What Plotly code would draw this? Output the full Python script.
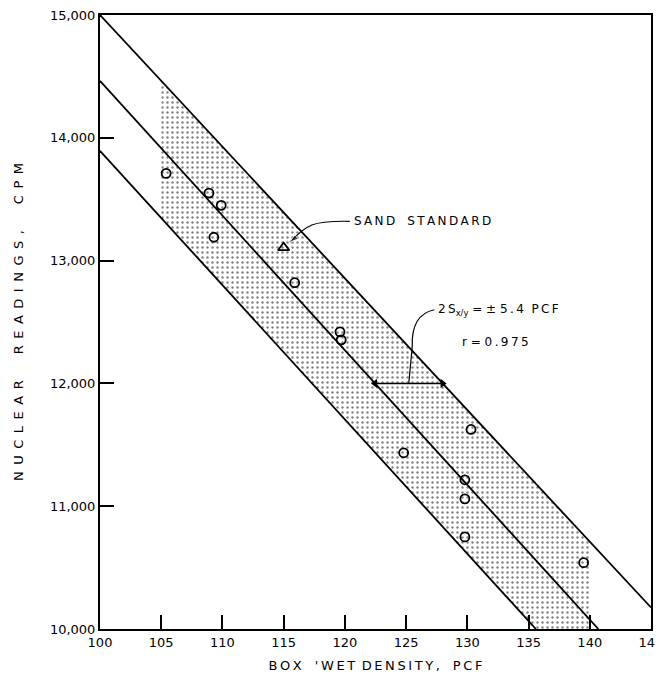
import numpy as np
import plotly.graph_objects as go

# ---- data ----
density_pcf = [105.4, 108.9, 109.9, 109.3, 115.9, 119.6, 119.7, 124.8, 130.3, 129.8, 129.8, 129.8, 139.5]
nuclear_cpm = [13710, 13550, 13450, 13190, 12820, 12420, 12355, 11435, 11625, 11215, 11060, 10750, 10540]

sand_std_density = [115.0]
sand_std_cpm = [13105]

# regression line and +/- 2S band (end points)
center_x = [100.0, 140.7]
center_y = [14463, 10000]
upper_x = [100.0, 145.0]
upper_y = [15000, 10175]
lower_x = [100.0, 135.6]
lower_y = [13894, 10000]

shade_x_range = [105.0, 140.0]   # extent of stippled band
band_arrow_cpm = 12000           # level of the +/- arrow

x_ticks = [100, 105, 110, 115, 120, 125, 130, 135, 140, 145]
y_ticks = [10000, 11000, 12000, 13000, 14000, 15000]


def spaced(s, gap="\u2009"):
    return gap.join(list(s))


def line_y(xs, ys, x):
    xs = np.asarray(xs, float); ys = np.asarray(ys, float)
    slope = (ys[1] - ys[0]) / (xs[1] - xs[0])
    return ys[0] + slope * (x - xs[0])


def line_x(xs, ys, y):
    xs = np.asarray(xs, float); ys = np.asarray(ys, float)
    slope = (ys[1] - ys[0]) / (xs[1] - xs[0])
    return xs[0] + (y - ys[0]) / slope


# stippled polygon built from the band lines
x0, x1 = shade_x_range
ybot = 10000
poly_x = [x0, x0, line_x(lower_x, lower_y, ybot), x1, x1, x0]
poly_y = [line_y(upper_x, upper_y, x0), line_y(lower_x, lower_y, x0), ybot, ybot,
          line_y(upper_x, upper_y, x1), line_y(upper_x, upper_y, x0)]

fig = go.Figure()

fig.add_trace(go.Scatter(
    x=poly_x, y=poly_y, mode="lines", fill="toself",
    line=dict(width=0, color="rgba(0,0,0,0)"),
    fillcolor="white",
    fillpattern=dict(shape=".", fgcolor="black", bgcolor="white", size=5, solidity=0.18),
    hoverinfo="skip", showlegend=False))

for xs, ys in [(upper_x, upper_y), (center_x, center_y), (lower_x, lower_y)]:
    fig.add_trace(go.Scatter(x=xs, y=ys, mode="lines",
                             line=dict(color="black", width=1.8),
                             showlegend=False, hoverinfo="skip"))

fig.add_trace(go.Scatter(
    x=density_pcf, y=nuclear_cpm, mode="markers",
    marker=dict(symbol="circle-open", size=9, color="black", line=dict(width=1.8)),
    showlegend=False))

fig.add_trace(go.Scatter(
    x=sand_std_density, y=sand_std_cpm, mode="markers",
    marker=dict(symbol="triangle-up-open", size=10, color="black", line=dict(width=1.8)),
    showlegend=False))

# +/- double arrow between center and upper line
xa_c = line_x(center_x, center_y, band_arrow_cpm)
xa_u = line_x(upper_x, upper_y, band_arrow_cpm)
xa_m = (xa_c + xa_u) / 2
fig.add_trace(go.Scatter(
    x=[xa_c, xa_u], y=[band_arrow_cpm, band_arrow_cpm], mode="lines+markers",
    line=dict(color="black", width=1.5),
    marker=dict(symbol=["triangle-left", "triangle-right"], size=8, color="black"),
    showlegend=False, hoverinfo="skip"))

font_txt = dict(family="DejaVu Sans", size=12, color="black")

# leader from the label to the arrow
fig.add_shape(type="path", xref="x", yref="y",
              path=f"M 127.3,12600 Q 125.4,12560 125.5,12300 L {xa_m:.2f},{band_arrow_cpm}",
              line=dict(color="black", width=1.2))

fig.add_annotation(x=127.4, y=12600, xref="x", yref="y", xanchor="left", yanchor="middle",
                   text=spaced("2S") + "<sub>x/y</sub> = ± " + spaced("5.4") + "  " + spaced("PCF"),
                   showarrow=False, font=font_txt)
fig.add_annotation(x=129.4, y=12335, xref="x", yref="y", xanchor="left", yanchor="middle",
                   text="r = " + spaced("0.975"), showarrow=False, font=font_txt)

# sand standard label with leader arrow to the triangle
fig.add_trace(go.Scatter(
    x=[120.4, 117.3, 115.5], y=[13320, 13290, 13150], mode="lines+markers",
    line=dict(color="black", width=1.2, shape="spline"),
    marker=dict(symbol=["circle", "circle", "arrow"], size=[0, 0, 9], color="black",
                angleref="previous"),
    showlegend=False, hoverinfo="skip"))
fig.add_annotation(x=120.6, y=13320, xref="x", yref="y", xanchor="left", yanchor="middle",
                   text=spaced("SAND") + "\u2003" + spaced("STANDARD"), showarrow=False,
                   font=font_txt)

axis_common = dict(showline=True, linecolor="black", linewidth=2, mirror=True,
                   ticks="inside", ticklen=14, tickwidth=2, tickcolor="black",
                   showgrid=False, zeroline=False, ticklabeloverflow="allow",
                   automargin=False,
                   tickfont=dict(family="DejaVu Sans", size=13, color="black"))

fig.update_xaxes(range=[100, 145], tickvals=x_ticks, ticktext=[str(v) for v in x_ticks],
                 title=dict(text=spaced("BOX") + "\u2003" + spaced("'WET") + "\u2002" +
                            spaced("DENSITY,") + "\u2003" + spaced("PCF"),
                            font=dict(family="DejaVu Sans", size=13, color="black"),
                            standoff=12),
                 **axis_common)
fig.update_yaxes(range=[10000, 15000], tickvals=y_ticks,
                 ticktext=[f"{v:,}" for v in y_ticks],
                 title=dict(text=spaced("NUCLEAR", "\u2002") + "\u2003\u2003" +
                            spaced("READINGS,", "\u2002") + "\u2003\u2003" +
                            spaced("CPM", "\u2002"),
                            font=dict(family="DejaVu Sans", size=13, color="black"),
                            standoff=23),
                 **axis_common)

fig.update_layout(width=656, height=682, paper_bgcolor="white", plot_bgcolor="white",
                  margin=dict(l=100, r=5, t=15, b=53, autoexpand=False), showlegend=False)

fig.write_html("out.html", config={"displayModeBar": False},
               post_script="document.body.style.margin='0';document.body.style.overflow='hidden';")
